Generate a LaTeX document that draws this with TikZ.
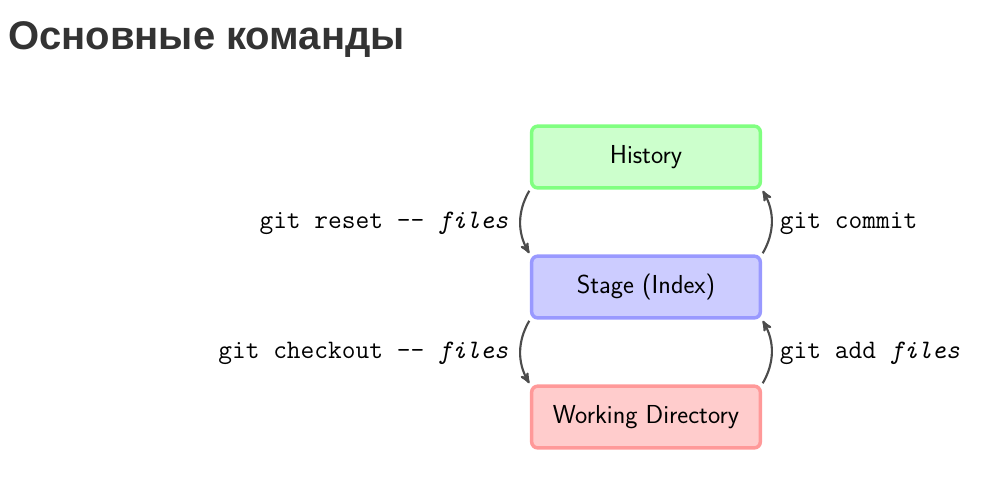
\documentclass[tikz,border=0pt]{standalone}
\usepackage{fontspec}
\newfontfamily\titlefont{Liberation Sans}
\usetikzlibrary{positioning, arrows}
\definecolor{titlegray}{HTML}{333333}

\begin{document}
\begin{tikzpicture}[shorten >=1pt, shorten <=1pt, node distance=97.5pt, on grid, auto]
        \tikzset{area/.style={rectangle, rounded corners=4.5pt, line width=2.6pt,
            minimum width=171.5pt, minimum height=46.3pt,
            font=\sffamily\fontsize{19.5}{23}\selectfont}}
        % Define attributes for the commands between areas
        \tikzstyle{cmd}=[->, >=stealth', line width=1.6pt, draw=black!70, bend right]
        \tikzstyle{cmdtext}=[font=\ttfamily\fontsize{20}{24}\selectfont, text=black, inner sep=5.5pt]

        \useasboundingbox (0pt,0pt) rectangle (744pt,-367.5pt);

        \node[anchor=base west, text=titlegray, inner sep=0pt,
            font=\titlefont\bfseries\fontsize{30}{36}\selectfont] (title) at (6pt,-36.75pt) {Основные команды};

        \node[area, fill=green!20, draw=green!50] (hist) at (484.5pt,-117.75pt) {History};
        \node[area, fill=blue!20, draw=blue!40] (stage) [below=of hist] {Stage (Index)};
        \node[area, fill=red!20, draw=red!40] (work) [below=of stage] {Working Directory};

        \path
        (hist.south west) edge [cmd] node[cmdtext, left, xshift=-3pt, yshift=-1pt] {git reset -{}- \textit{files}} (stage.north west)
        (stage.north east) edge [cmd] node[cmdtext, right, yshift=-1pt] {git commit} (hist.south east)

        (stage.south west) edge [cmd] node[cmdtext, left, xshift=-3pt, yshift=-1pt] {git checkout -{}- \textit{files}} (work.north west)
        (work.north east) edge [cmd] node[cmdtext, right, yshift=-1pt] {git add \textit{files}} (stage.south east);
    \end{tikzpicture}
\end{document}
